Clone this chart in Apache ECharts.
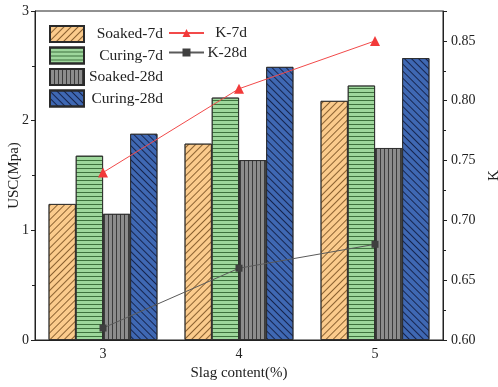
<!DOCTYPE html>
<html><head><meta charset="utf-8">
<script src="https://cdn.jsdelivr.net/npm/echarts@6/dist/echarts.min.js"></script>
<style>html,body{margin:0;padding:0;background:#fff}#c{width:498px;height:387px}</style>
</head><body><div id="c"></div>
<script>
const categories = ['3', '4', '5'];
const soaked7d = [1.24, 1.79, 2.18];
const curing7d = [1.68, 2.21, 2.32];
const soaked28d = [1.15, 1.64, 1.75];
const curing28d = [1.88, 2.49, 2.57];
const k7d = [0.74, 0.81, 0.85];
const k28d = [0.61, 0.66, 0.68];
const leftTicks = [0, 1, 2, 3];
const rightTicks = [0.60, 0.65, 0.70, 0.75, 0.80, 0.85];

const FONT = '"Liberation Serif", "Times New Roman", serif';
const chart = echarts.init(document.getElementById('c'), null, {renderer: 'canvas'});

function bar(name, data, color, decal) {
  return {
    name, type: 'bar', data, barGap: '0%', barCategoryGap: '20%',
    itemStyle: {color, borderColor: '#2a2a2a', borderWidth: 0.8, decal},
    z: 2
  };
}

const option = {
  animation: false,
  backgroundColor: '#fff',
  grid: {left: 35, right: 55, top: 11, bottom: 47, show: true, borderColor: '#222', borderWidth: 1,
    containLabel: false, outerBoundsMode: 'none'},
  legend: [
    {
      data: ['Soaked-7d', 'Curing-7d', 'Soaked-28d', 'Curing-28d'],
      icon: 'rect',
      orient: 'vertical', left: 49, top: 25, itemWidth: 34, itemHeight: 16, itemGap: 3.5,
      padding: 0,
      formatter: n => '{a|' + n + '}',
      textStyle: {fontFamily: FONT, fontSize: 15.5, color: '#222',
        rich: {a: {width: 74, align: 'right', fontFamily: FONT, fontSize: 15.5, color: '#222'}}}
    },
    {
      data: ['K-7d', 'K-28d'],
      orient: 'vertical', left: 168, top: 25, itemWidth: 35, itemHeight: 10, itemGap: 3.5,
      padding: 0,
      formatter: n => '{a|' + n + '}',
      textStyle: {fontFamily: FONT, fontSize: 15.5, color: '#222',
        rich: {a: {width: 38, height: 17.5, align: 'right', fontFamily: FONT, fontSize: 15.5, color: '#222'}}}
    }
  ],
  xAxis: {
    type: 'category', data: categories, boundaryGap: true,
    name: 'Slag content(%)', nameLocation: 'middle', nameGap: 25,
    nameTextStyle: {fontFamily: FONT, fontSize: 15, color: '#222'},
    axisLine: {lineStyle: {color: '#222', width: 1}},
    axisTick: {inside: true, length: 4, alignWithLabel: false, lineStyle: {color: '#222'}},
    axisLabel: {fontFamily: FONT, fontSize: 14, color: '#222', margin: 7}
  },
  yAxis: [
    {
      type: 'value', min: 0, max: 3, interval: 1, position: 'left',
      name: 'USC(Mpa)', nameLocation: 'middle', nameGap: 13, nameRotate: 90,
      nameMoveOverlap: false,
      nameTextStyle: {fontFamily: FONT, fontSize: 15, color: '#222'},
      axisLine: {show: true, lineStyle: {color: '#222'}},
      axisTick: {show: true, length: 4, lineStyle: {color: '#222'}},
      minorTick: {show: true, splitNumber: 2, length: 3, lineStyle: {color: '#222'}},
      splitLine: {show: false},
      axisLabel: {fontFamily: FONT, fontSize: 14, color: '#222', margin: 6,
        formatter: v => leftTicks.includes(v) ? String(v) : ''}
    },
    {
      type: 'value', min: 0.6, max: 0.875, interval: 0.05, position: 'right',
      name: 'K', nameLocation: 'middle', nameGap: 44, nameRotate: 90,
      nameTextStyle: {fontFamily: FONT, fontSize: 15, color: '#222'},
      axisLine: {show: true, lineStyle: {color: '#222'}},
      axisTick: {show: true, length: 4, lineStyle: {color: '#222'}},
      minorTick: {show: true, splitNumber: 2, length: 3, lineStyle: {color: '#222'}},
      splitLine: {show: false},
      axisLabel: {fontFamily: FONT, fontSize: 14, color: '#222', margin: 8,
        formatter: v => {
          const m = rightTicks.find(t => Math.abs(t - v) < 1e-6);
          return m === undefined ? '' : m.toFixed(2);
        }}
    }
  ],
  series: [
    bar('Soaked-7d', soaked7d, '#FBCB8C',
      {symbol: 'rect', symbolSize: 1, dashArrayX: [1, 0], dashArrayY: [1, 3.5], rotation: -Math.PI / 4, color: 'rgba(110,70,25,0.8)'}),
    bar('Curing-7d', curing7d, '#9ED79C',
      {symbol: 'rect', symbolSize: 1, dashArrayX: [1, 0], dashArrayY: [1, 3], rotation: 0, color: 'rgba(30,80,30,0.75)'}),
    bar('Soaked-28d', soaked28d, '#8C8C8C',
      {symbol: 'rect', symbolSize: 1, dashArrayX: [1, 3], dashArrayY: [1, 0], rotation: 0, color: 'rgba(40,40,40,0.8)'}),
    bar('Curing-28d', curing28d, '#3F68B3',
      {symbol: 'rect', symbolSize: 1, dashArrayX: [1, 0], dashArrayY: [1, 4], rotation: Math.PI / 4, color: 'rgba(15,25,60,0.85)'}),
    {
      name: 'K-7d', type: 'line', yAxisIndex: 1, data: k7d,
      symbol: 'triangle', symbolSize: 10,
      lineStyle: {color: '#F24A4A', width: 1},
      itemStyle: {color: '#F23A3A'}, z: 5
    },
    {
      name: 'K-28d', type: 'line', yAxisIndex: 1, data: k28d,
      symbol: 'rect', symbolSize: 7,
      lineStyle: {color: '#5a5a5a', width: 1},
      itemStyle: {color: '#3f3f3f'}, z: 5
    }
  ]
};
chart.setOption(option);
</script>
</body></html>
